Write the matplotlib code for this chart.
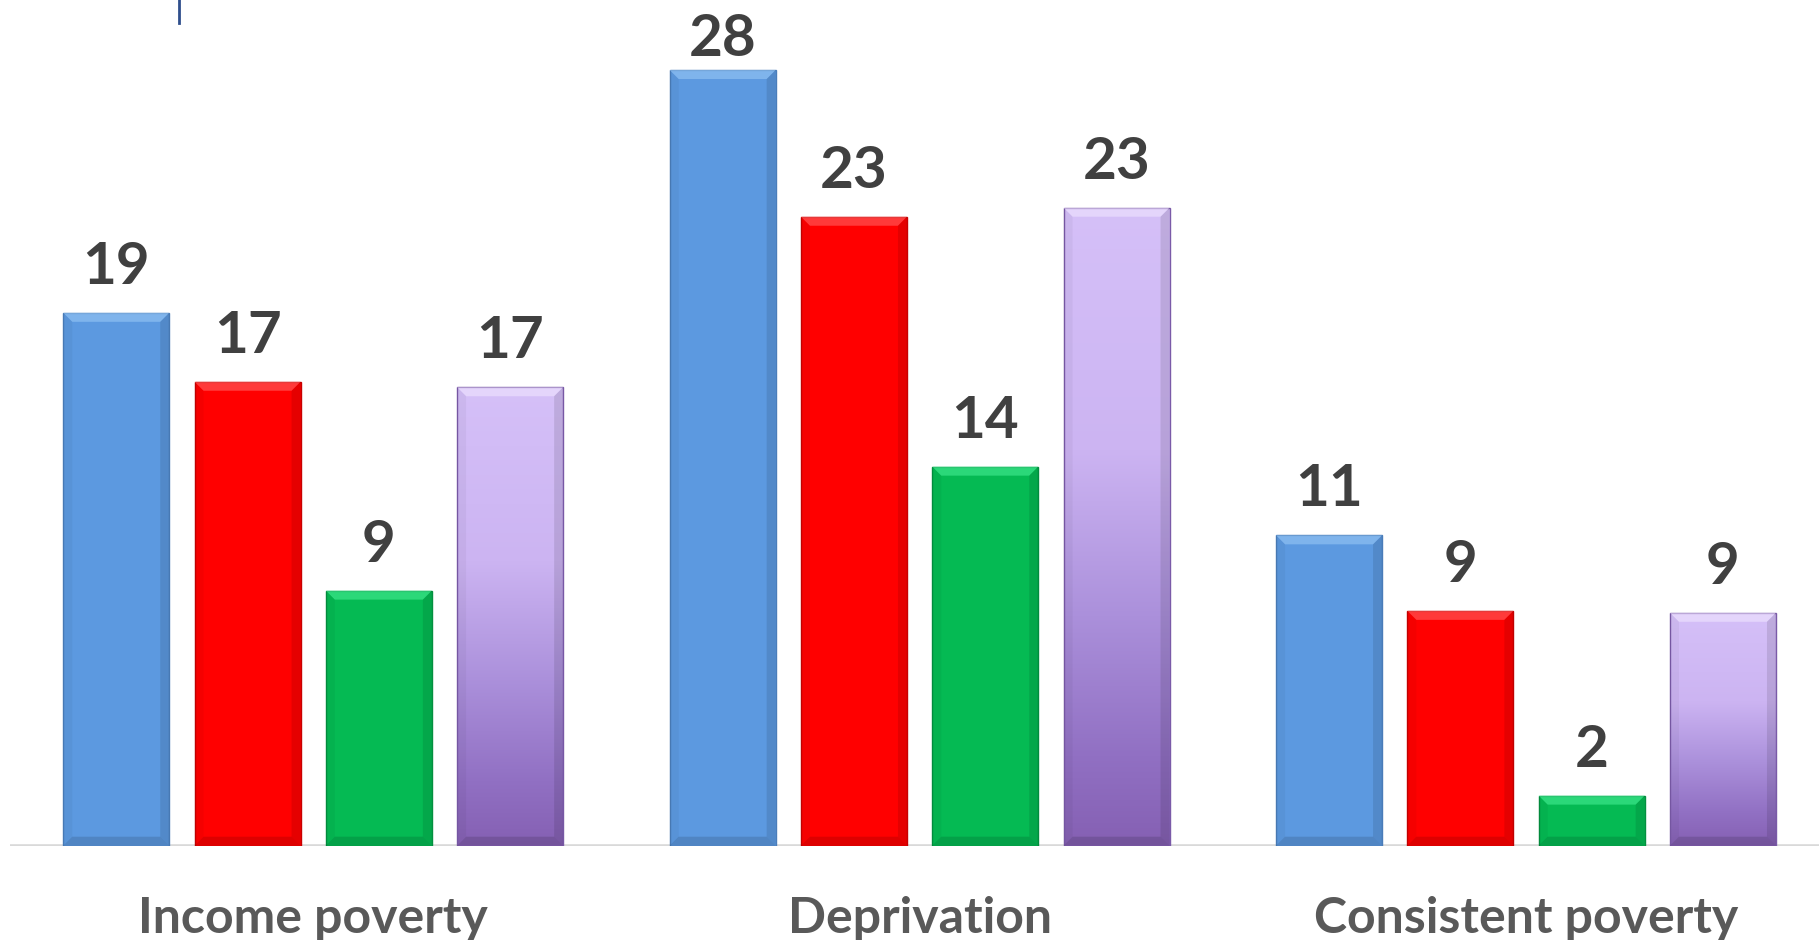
import matplotlib
matplotlib.use('Agg')
import matplotlib.pyplot as plt
import numpy as np
from matplotlib.patches import Polygon
from matplotlib.colors import LinearSegmentedColormap
from matplotlib.lines import Line2D

# ---- data ----
categories = ['Income poverty', 'Deprivation', 'Consistent poverty']
blue_vals = [19.47, 28.34, 11.34]
red_vals = [16.95, 22.98, 8.58]
green_vals = [9.32, 13.85, 1.83]
purple_vals = [16.75, 23.31, 8.51]

series = [blue_vals, red_vals, green_vals, purple_vals]
face_colors = ['#5C99E0', '#FF0000', '#05BA53', None]
edge_colors = ['#4A7DBA', '#C80000', '#03903F', '#7A5AA8']
top_colors = ['#9CCBF7', '#FF6A6A', '#4CF29A', '#F2E8FF']

purple_cmap = LinearSegmentedColormap.from_list(
    'purple', [(0.0, '#D5C0F8'), (0.38, '#CCB4F2'), (0.64, '#AB90DB'),
               (0.86, '#9170C3'), (1.0, '#8560B3')])

W, H = 1819, 940
fig = plt.figure(figsize=(W / 100, H / 100), dpi=100)
fig.patch.set_facecolor('white')

px_x = 606.4      # pixels per group (x data unit)
px_y = 27.37      # pixels per value unit
ax_left, ax_bottom_px = 10, 94.3
ax_w = W - ax_left
ax_h = H - ax_bottom_px
ax = fig.add_axes([ax_left / W, ax_bottom_px / H, ax_w / W, ax_h / H])

bar_w = 106 / px_x
step = 131.3 / px_x
xg = np.arange(len(categories))

font = 'Lato'
dx = 9 / px_x
dy = 9 / px_y
gap_px = 29          # gap between bar top and label baseline
digit_px = 42        # digit height
top_margin_px = 14   # labels kept inside the plot area

ax.axhline(0, color='#D9D9D9', lw=2.6, zorder=1)

for i, vals in enumerate(series):
    xs = xg + (i - 1.5) * step
    fc = face_colors[i] if face_colors[i] is not None else 'none'
    bars = ax.bar(xs, vals, width=bar_w, color=fc, edgecolor=edge_colors[i],
                  linewidth=1.0, zorder=3)
    for rect, v in zip(bars, vals):
        x0 = rect.get_x()
        x1 = x0 + rect.get_width()
        y1 = rect.get_height()
        if face_colors[i] is None:
            grad = purple_cmap(np.linspace(0, 1, 256))[:, None, :3]
            im = ax.imshow(grad, extent=[x0, x1, 0, y1], aspect='auto',
                           zorder=2.5, interpolation='bilinear')
            im.set_clip_path(rect)
        d_y = min(dy, y1 / 3)
        ax.add_patch(Polygon([(x0, y1), (x1, y1), (x1 - dx, y1 - d_y), (x0 + dx, y1 - d_y)],
                             closed=True, facecolor=top_colors[i], alpha=0.55,
                             edgecolor='none', zorder=3.2))
        ax.add_patch(Polygon([(x0, 0), (x1, 0), (x1 - dx, d_y), (x0 + dx, d_y)],
                             closed=True, facecolor='black', alpha=0.13,
                             edgecolor='none', zorder=3.2))
        ax.add_patch(Polygon([(x0, 0), (x0, y1), (x0 + dx, y1 - d_y), (x0 + dx, d_y)],
                             closed=True, facecolor='black', alpha=0.04,
                             edgecolor='none', zorder=3.2))
        ax.add_patch(Polygon([(x1, 0), (x1, y1), (x1 - dx, y1 - d_y), (x1 - dx, d_y)],
                             closed=True, facecolor='black', alpha=0.10,
                             edgecolor='none', zorder=3.2))
        # label baseline in pixels above the bar top, clamped inside the plot area
        bar_top_px = y1 * px_y
        max_base_px = ax_h - top_margin_px - digit_px
        off_px = min(gap_px, max_base_px - bar_top_px)
        ax.annotate(f'{v:.0f}', xy=(rect.get_x() + rect.get_width() / 2, y1),
                    xytext=(0, off_px * 0.72), textcoords='offset points',
                    ha='center', va='baseline', fontsize=42, fontweight='bold',
                    color='#404040', family=font, zorder=5)

for g, cat in zip(xg, categories):
    ax.annotate(cat, xy=(g, 0), xytext=(0, -(933 - 845.7) * 0.72),
                textcoords='offset points', ha='center', va='baseline',
                fontsize=36, fontweight='bold', color='#595959', family=font,
                annotation_clip=False)

ax.set_xlim(-0.5, -0.5 + ax_w / px_x)
ax.set_ylim(0, ax_h / px_y)
for s in ax.spines.values():
    s.set_visible(False)
ax.set_xticks([])
ax.set_yticks([])
ax.patch.set_alpha(0)

fig.add_artist(Line2D([179.3 / W, 179.3 / W], [1.0, 1 - 23 / H],
                      color='#2F4E8C', lw=2.0, transform=fig.transFigure))

fig.savefig('out.png', dpi=100, facecolor='white')
